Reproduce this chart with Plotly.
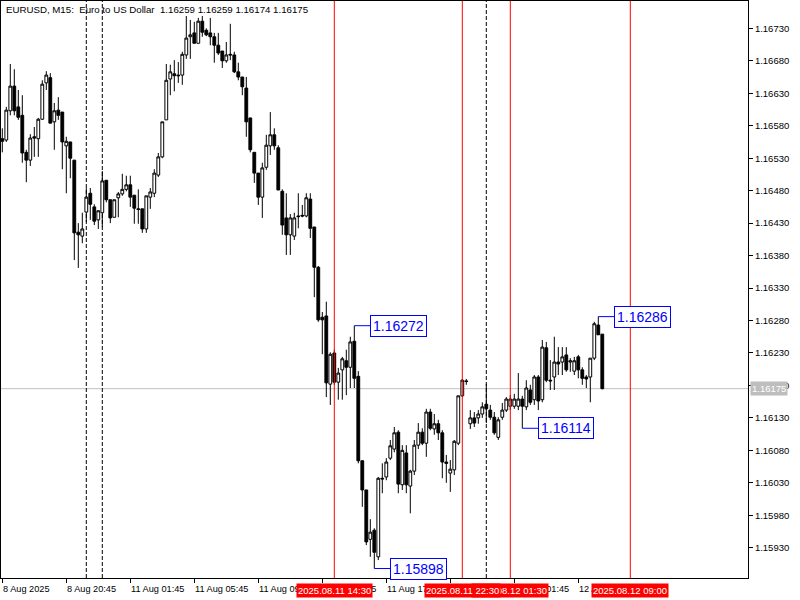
import plotly.graph_objects as go
import pandas as pd

# ---------------- data ----------------
open_ = [1.16560,1.16558,1.16603,1.16641,1.16609,1.16596,1.16539,1.16527,1.16563,1.16560,
         1.16590,1.16646,1.16654,1.16586,1.16604,1.16601,1.16549,1.16555,1.16527,1.16416,
         1.16410,1.16447,1.16476,1.16455,1.16435,1.16446,1.16496,1.16466,1.16439,1.16469,
         1.16475,1.16482,1.16489,1.16473,1.16452,1.16452,1.16421,1.16470,1.16476,1.16504,
         1.16532,1.16589,1.16652,1.16660,1.16658,1.16658,1.16689,1.16717,1.16723,1.16707,
         1.16741,1.16727,1.16723,1.16717,1.16704,1.16695,1.16680,1.16690,1.16689,1.16663,
         1.16655,1.16638,1.16592,1.16539,1.16507,1.16470,1.16516,1.16549,1.16566,1.16546,
         1.16479,1.16438,1.16412,1.16410,1.16441,1.16442,1.16441,1.16467,1.16424,1.16362,
         1.16285,1.16287,1.16182,1.16230,1.16185,1.16204,1.16218,1.16208,1.16248,1.16194,
         1.16064,1.16019,1.15943,1.15957,1.15916,1.16037,1.16039,1.16068,1.16082,1.16108,
         1.16027,1.16076,1.16025,1.16048,1.16088,1.16108,1.16091,1.16139,1.16113,1.16121,
         1.16107,1.16062,1.16045,1.16050,1.16091,1.16164,1.16187,1.16121,1.16130,1.16130,
         1.16136,1.16151,1.16142,1.16131,1.16100,1.16131,1.16142,1.16148,1.16148,1.16148,
         1.16159,1.16147,1.16173,1.16158,1.16193,1.16158,1.16238,1.16188,1.16193,1.16216,
         1.16216,1.16227,1.16216,1.16202,1.16224,1.16204,1.16193,1.16193,1.16222,1.16273,
         1.16259]
high = [1.16576,1.16609,1.16675,1.16667,1.16635,1.16627,1.16543,1.16567,1.16578,1.16592,
        1.16650,1.16664,1.16661,1.16615,1.16624,1.16601,1.16563,1.16555,1.16527,1.16430,
        1.16446,1.16484,1.16484,1.16459,1.16450,1.16510,1.16496,1.16466,1.16466,1.16478,
        1.16506,1.16503,1.16503,1.16473,1.16482,1.16452,1.16472,1.16484,1.16513,1.16538,
        1.16586,1.16675,1.16674,1.16681,1.16678,1.16694,1.16749,1.16743,1.16740,1.16746,
        1.16749,1.16730,1.16746,1.16723,1.16723,1.16695,1.16709,1.16737,1.16694,1.16677,
        1.16655,1.16655,1.16592,1.16539,1.16507,1.16523,1.16566,1.16601,1.16576,1.16550,
        1.16482,1.16476,1.16444,1.16446,1.16476,1.16458,1.16476,1.16476,1.16424,1.16364,
        1.16293,1.16309,1.16231,1.16235,1.16207,1.16224,1.16235,1.16255,1.16272,1.16202,
        1.16064,1.16019,1.15974,1.15960,1.16039,1.16060,1.16068,1.16096,1.16116,1.16111,
        1.16088,1.16088,1.16050,1.16096,1.16122,1.16114,1.16144,1.16144,1.16136,1.16127,
        1.16111,1.16073,1.16065,1.16096,1.16164,1.16190,1.16190,1.16142,1.16139,1.16142,
        1.16154,1.16182,1.16150,1.16139,1.16131,1.16153,1.16162,1.16165,1.16167,1.16199,
        1.16164,1.16188,1.16181,1.16196,1.16196,1.16250,1.16247,1.16219,1.16255,1.16239,
        1.16239,1.16239,1.16222,1.16224,1.16227,1.16208,1.16196,1.16222,1.16278,1.16286,
        1.16259]
low = [1.16539,1.16555,1.16596,1.16596,1.16589,1.16523,1.16493,1.16518,1.16532,1.16532,
       1.16589,1.16635,1.16584,1.16543,1.16589,1.16513,1.16476,1.16499,1.16373,1.16361,
       1.16399,1.16432,1.16435,1.16427,1.16421,1.16424,1.16462,1.16430,1.16439,1.16439,
       1.16472,1.16479,1.16455,1.16429,1.16429,1.16415,1.16415,1.16452,1.16470,1.16501,
       1.16530,1.16589,1.16627,1.16633,1.16646,1.16643,1.16683,1.16683,1.16707,1.16707,
       1.16717,1.16718,1.16704,1.16677,1.16689,1.16669,1.16677,1.16681,1.16661,1.16650,
       1.16627,1.16563,1.16539,1.16492,1.16458,1.16438,1.16512,1.16535,1.16543,1.16481,
       1.16412,1.16381,1.16381,1.16404,1.16422,1.16439,1.16439,1.16407,1.16316,1.16278,
       1.16228,1.16162,1.16150,1.16181,1.16158,1.16158,1.16165,1.16176,1.16176,1.16060,
       1.15993,1.15934,1.15916,1.15898,1.15911,1.16014,1.16034,1.16065,1.16077,1.16014,
       1.16019,1.16014,1.15983,1.16042,1.16082,1.16088,1.16070,1.16111,1.16104,1.16096,
       1.16037,1.16030,1.16016,1.16042,1.16088,1.16162,1.16181,1.16113,1.16116,1.16121,
       1.16130,1.16122,1.16127,1.16104,1.16096,1.16127,1.16139,1.16142,1.16144,1.16142,
       1.16114,1.16142,1.16150,1.16150,1.16142,1.16154,1.16185,1.16173,1.16173,1.16196,
       1.16196,1.16201,1.16201,1.16196,1.16191,1.16181,1.16176,1.16154,1.16219,1.16258,
       1.16174]
close = [1.16556,1.16604,1.16641,1.16603,1.16593,1.16538,1.16527,1.16561,1.16561,1.16590,
         1.16644,1.16658,1.16584,1.16603,1.16596,1.16555,1.16556,1.16530,1.16415,1.16412,
         1.16421,1.16470,1.16459,1.16433,1.16449,1.16495,1.16466,1.16438,1.16466,1.16475,
         1.16482,1.16489,1.16470,1.16453,1.16451,1.16421,1.16472,1.16478,1.16507,1.16532,
         1.16586,1.16650,1.16663,1.16657,1.16657,1.16690,1.16715,1.16720,1.16707,1.16741,
         1.16724,1.16720,1.16717,1.16704,1.16692,1.16680,1.16689,1.16689,1.16663,1.16655,
         1.16640,1.16586,1.16543,1.16507,1.16470,1.16515,1.16550,1.16566,1.16549,1.16481,
         1.16427,1.16412,1.16438,1.16438,1.16440,1.16441,1.16469,1.16422,1.16362,1.16281,
         1.16281,1.16184,1.16228,1.16185,1.16199,1.16221,1.16208,1.16247,1.16191,1.16064,
         1.16019,1.15939,1.15954,1.15923,1.16037,1.16036,1.16062,1.16087,1.16107,1.16028,
         1.16080,1.16027,1.16048,1.16088,1.16108,1.16091,1.16139,1.16114,1.16121,1.16107,
         1.16062,1.16060,1.16051,1.16094,1.16164,1.16188,1.16186,1.16130,1.16122,1.16136,
         1.16147,1.16144,1.16131,1.16107,1.16127,1.16142,1.16159,1.16159,1.16159,1.16159,
         1.16148,1.16176,1.16154,1.16193,1.16156,1.16239,1.16188,1.16187,1.16216,1.16213,
         1.16224,1.16204,1.16218,1.16218,1.16204,1.16191,1.16190,1.16222,1.16275,1.16258,
         1.16175]

symbol_text = "EURUSD, M15:\u00a0 Euro to US Dollar\u00a0 1.16259 1.16259 1.16174 1.16175"

tick_times = ["2025.08.08 16:45", "2025.08.08 20:45", "2025.08.11 01:45", "2025.08.11 05:45",
              "2025.08.11 09:45", "2025.08.11 13:45", "2025.08.11 17:45", "2025.08.11 21:45",
              "2025.08.12 01:45", "2025.08.12 05:45"]
tick_labels = ["8 Aug 2025", "8 Aug 20:45", "11 Aug 01:45", "11 Aug 05:45", "11 Aug 09:45",
               "11 Aug 13:45", "11 Aug 17:45", "11 Aug 21:45", "12 Aug 01:45", "12 Aug 05:45"]
price_ticks = [1.15930, 1.15980, 1.16030, 1.16080, 1.16130, 1.16180, 1.16230, 1.16280, 1.16330,
               1.16380, 1.16430, 1.16480, 1.16530, 1.16580, 1.16630, 1.16680, 1.16730]

vline_times = ["2025.08.11 14:30", "2025.08.12 09:00", "2025.08.12 01:30", "2025.08.11 22:30"]
separator_times = ["2025.08.08 22:00", "2025.08.08 23:00", "2025.08.12 00:00"]
marker_times = ["2025.08.11 15:45", "2025.08.11 17:00", "2025.08.12 02:15", "2025.08.12 07:00"]
marker_kinds = ["high", "low", "low", "high"]

# ---------------- time index (M15 bars, weekend gap) ----------------
t_fri = pd.date_range("2025-08-08 16:45", "2025-08-08 23:45", freq="15min")
t_mon = pd.date_range("2025-08-11 01:00", periods=220, freq="15min")
all_times = list(t_fri) + list(t_mon)
pos = {t.strftime("%Y.%m.%d %H:%M"): k for k, t in enumerate(all_times)}
n = len(open_)
xs = list(range(n))

FONT = "Liberation Sans"
BLUE = "#0000FF"
RED = "#FF0000"

fig = go.Figure(go.Candlestick(
    x=xs, open=open_, high=high, low=low, close=close,
    increasing=dict(line=dict(color="black", width=1), fillcolor="white"),
    decreasing=dict(line=dict(color="black", width=1), fillcolor="black"),
    whiskerwidth=0, hoverinfo="skip"))

shapes = []
# current price line
shapes.append(dict(type="line", xref="paper", x0=0, x1=1, yref="y", y0=close[-1], y1=close[-1],
                   line=dict(color="#C0C0C0", width=1), layer="below"))
for t in separator_times:
    shapes.append(dict(type="line", xref="x", x0=pos[t], x1=pos[t], yref="paper", y0=0, y1=1,
                       line=dict(color="black", width=1, dash="4px,2px"), layer="below"))
for t in vline_times:
    shapes.append(dict(type="line", xref="x", x0=pos[t], x1=pos[t], yref="paper", y0=0, y1=1,
                       line=dict(color=RED, width=1), layer="above"))

annotations = []
annotations.append(dict(text=symbol_text, xref="paper", yref="paper", x=0, y=1, xanchor="left",
                        yanchor="top", xshift=3, yshift=-1, showarrow=False,
                        font=dict(family=FONT, size=9.7, color="black")))
for t, lab in zip(tick_times, tick_labels):
    annotations.append(dict(text=lab, xref="x", yref="paper", x=pos[t], y=0, yshift=-11,
                            xanchor="left", yanchor="middle", xshift=-1, showarrow=False,
                            font=dict(family=FONT, size=9.2, color="black")))
for t in vline_times:
    annotations.append(dict(text=t, xref="x", yref="paper", x=pos[t], y=0, yshift=-12,
                            xanchor="center", yanchor="middle", showarrow=False,
                            bgcolor=RED, borderpad=1,
                            font=dict(family=FONT, size=9.5, color="white")))
# extreme markers
for t, kind in zip(marker_times, marker_kinds):
    k = pos[t]
    price = high[k] if kind == "high" else low[k]
    shapes.append(dict(type="line", xref="x", yref="y", x0=k, x1=k + 4, y0=price, y1=price,
                       line=dict(color=BLUE, width=1), layer="above"))
    annotations.append(dict(text=f"{price:.5f}", xref="x", yref="y", x=k + 4, y=price,
                            xanchor="left", yanchor="middle", showarrow=False,
                            bgcolor="white", bordercolor=BLUE, borderwidth=1, borderpad=2,
                            font=dict(family=FONT, size=14, color=BLUE)))
# current price tag on the axis
annotations.append(dict(text=f"{close[-1]:.5f}", xref="paper", yref="y", x=1, y=close[-1],
                        xanchor="left", yanchor="middle", xshift=2, showarrow=False,
                        bgcolor="#BEBEBE", borderpad=1,
                        font=dict(family=FONT, size=9.5, color="white")))

fig.update_layout(
    width=800, height=600, margin=dict(l=1, r=52, t=1, b=22),
    paper_bgcolor="white", plot_bgcolor="white", showlegend=False,
    boxgap=0.3, boxgroupgap=0,
    shapes=shapes, annotations=annotations,
    font=dict(family=FONT, size=9, color="black"),
    xaxis=dict(range=[-0.325, 186.425], showgrid=False, zeroline=False, showline=True,
               mirror=True, linecolor="black", linewidth=1, ticks="outside", ticklen=4,
               tickcolor="black", tickvals=[pos[t] for t in tick_times],
               showticklabels=False, rangeslider=dict(visible=False), fixedrange=True),
    yaxis=dict(side="right", range=[1.158834, 1.167721], showgrid=False, zeroline=False,
               showline=True, mirror=True, linecolor="black", linewidth=1, ticks="outside",
               ticklen=4, tickcolor="black", tickvals=price_ticks, tickformat=".5f",
               tickfont=dict(family=FONT, size=9.5, color="black"), fixedrange=True),
)

fig.write_html("out.html", config={"displayModeBar": False},
               post_script="document.body.style.margin='0';document.body.style.padding='0';"
                           "document.body.style.overflow='hidden';")
